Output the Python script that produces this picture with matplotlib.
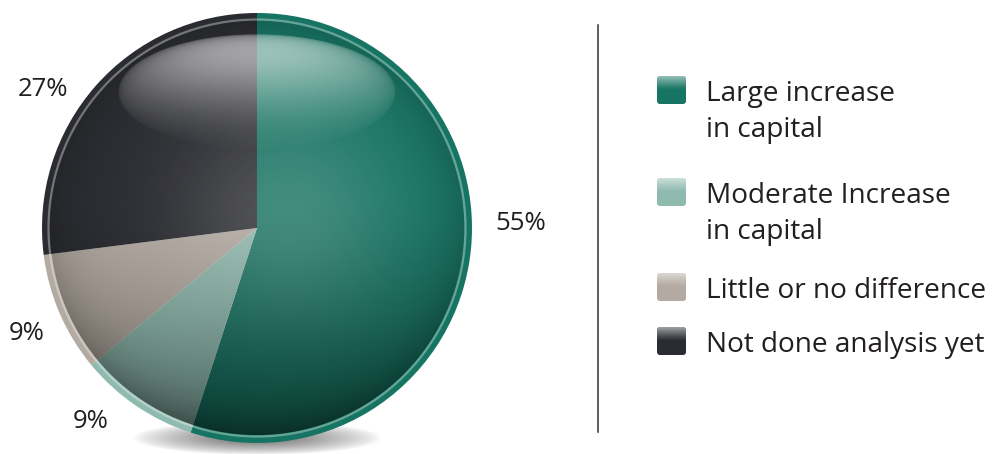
import numpy as np
import matplotlib.pyplot as plt
from matplotlib.patches import Ellipse, Circle, FancyBboxPatch

# data
labels = ['Large increase\nin capital', 'Moderate Increase\nin capital',
          'Little or no difference', 'Not done analysis yet']
shares = [55, 9, 9, 27]
pct_text = ['55%', '9%', '9%', '27%']
colors = ['#167462', '#8fbaae', '#b3aaa1', '#2b2c31']

plt.rcParams['font.family'] = ['Open Sans', 'DejaVu Sans']
TXT = '#231f20'

W, H = 994, 454
fig = plt.figure(figsize=(9.94, 4.54), dpi=100)
ax = fig.add_axes([0, 0, 1, 1])


def Y(y):
    # image row -> data y
    return H - y


cx, cy, R = 257, Y(228), 215

# shadow under the ball
sx, sy, sw, sh = 257, Y(438), 250, 34
gx = np.linspace(-1, 1, 200)
GX, GY = np.meshgrid(gx, gx)
d = np.sqrt(GX**2 + GY**2)
sh_img = np.zeros((200, 200, 4))
sh_img[..., :3] = 0.35
sh_img[..., 3] = np.clip(1 - d, 0, 1) ** 0.8 * 0.9
ax.imshow(sh_img, extent=(sx - sw / 2, sx + sw / 2, sy - sh / 2, sy + sh / 2),
          origin='lower', zorder=0, interpolation='bilinear')

# the pie itself
ax.pie(shares, colors=colors, startangle=90, counterclock=False,
       center=(cx, cy), radius=R, wedgeprops=dict(linewidth=0))
for w in ax.patches:
    w.set_zorder(1)

# inner shading
Ri = R - 8
n = 400
u = np.linspace(-1, 1, n)
U, V = np.meshgrid(u, u)          # V positive = upward
r = np.sqrt(U**2 + V**2)
shade = np.zeros((n, n, 4))
dark = 0.45 * np.clip((-V + 0.15) / 1.15, 0, 1) ** 1.4 + 0.15 * r**8
light = 0.22 * np.exp(-((U - 0.15)**2 + (V - 0.05)**2) / 0.3)
a = np.clip(dark + light, 0, 1)
shade[..., :3] = (light / np.maximum(a, 1e-6))[..., None] * 0.9
shade[..., 3] = a
inner = Circle((cx, cy), Ri, transform=ax.transData, facecolor='none', edgecolor='none')
ax.add_patch(inner)
im = ax.imshow(shade, extent=(cx - Ri, cx + Ri, cy - Ri, cy + Ri), origin='lower',
               zorder=2, interpolation='bilinear')
im.set_clip_path(inner)

# thin light ring
ax.add_patch(Circle((cx, cy), Ri + 1.5, facecolor='none', edgecolor='white',
                    alpha=0.35, linewidth=1.6, zorder=3))

# glossy highlight on top
hx, hy, hw, hh = 257, Y(92), 278, 116
hl = np.zeros((n, n, 4))
hl[..., :3] = 1.0
t = np.clip((V + 1) / 2, 0, 1)   # 0 bottom, 1 top
edge = np.clip(1 - (U**2 + V**2), 0, 1) ** 0.3
hl[..., 3] = (0.03 + 0.85 * t**1.5) * edge
ell = Ellipse((hx, hy), hw, hh, transform=ax.transData, facecolor='none', edgecolor='none')
ax.add_patch(ell)
him = ax.imshow(hl, extent=(hx - hw / 2, hx + hw / 2, hy - hh / 2, hy + hh / 2),
                origin='lower', zorder=4, interpolation='bilinear')
him.set_clip_path(ell)

# percent labels
pct_pos = [(521, 223), (91, 422), (27, 334), (43, 89)]
for s, (px, py) in zip(pct_text, pct_pos):
    ax.text(px, Y(py), s, fontsize=18.5, color=TXT, ha='center', va='center', zorder=5)

# divider
ax.plot([598, 598], [Y(25), Y(432)], color='#333333', linewidth=1.1)

# legend
mk_y = [90, 192, 287, 341]
for lab, col, my in zip(labels, colors, mk_y):
    box = FancyBboxPatch((657, Y(my) - 14), 29, 28,
                         boxstyle='round,pad=0,rounding_size=3',
                         facecolor=col, edgecolor='none', zorder=3)
    ax.add_patch(box)
    g = np.zeros((50, 2, 4))
    g[..., :3] = 1.0
    tt = np.linspace(0, 1, 50)
    g[..., 3] = (0.55 * np.clip((tt - 0.5) / 0.5, 0, 1) ** 1.2)[:, None]
    gi = ax.imshow(g, extent=(657, 686, Y(my) - 14, Y(my) + 14), origin='lower',
                   zorder=4, interpolation='bilinear')
    gi.set_clip_path(box)
    for i, line in enumerate(lab.split('\n')):
        ax.text(706, Y(my + 4 + i * 36), line, fontsize=20.2, color=TXT,
                ha='left', va='center', zorder=5)

ax.set_xlim(0, W)
ax.set_ylim(0, H)
ax.set_aspect('auto')
ax.axis('off')

fig.savefig('out.png', dpi=100)
